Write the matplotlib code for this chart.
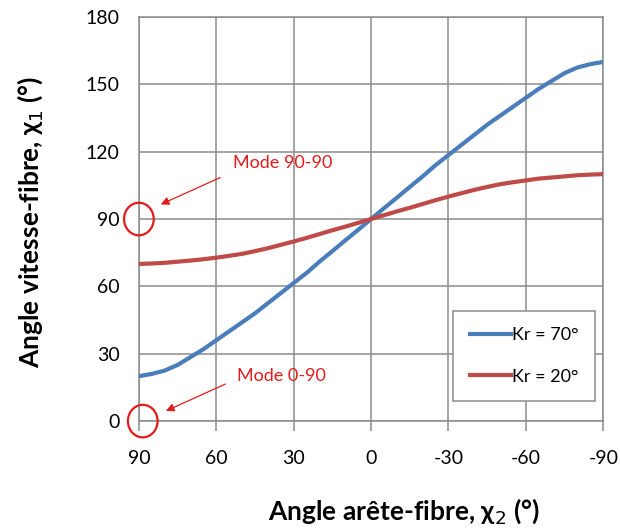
import matplotlib.pyplot as plt
from matplotlib.patches import Ellipse

# Data
chi2 = [90, 85, 80, 75, 70, 65, 60, 55, 50, 45, 40, 35, 30, 25, 20, 15, 10, 5, 0,
        -5, -10, -15, -20, -25, -30, -35, -40, -45, -50, -55, -60, -65, -70, -75, -80, -85, -90]
kr70 = [20, 21, 22.5, 25, 28.5, 32, 36, 40, 44, 48, 52.5, 57, 61.5, 66, 71, 75.7, 80.5, 85.2, 90,
        94.8, 99.5, 104.3, 109, 114, 118.5, 123, 127.5, 132, 136, 140, 144, 148, 151.5, 155, 157.5, 159, 160]
kr20 = [70, 70.2, 70.5, 71, 71.5, 72.1, 72.8, 73.6, 74.5, 75.7, 77, 78.5, 80, 81.6, 83.3, 85, 86.6, 88.3, 90,
        91.7, 93.4, 95, 96.7, 98.4, 100, 101.5, 103, 104.3, 105.5, 106.4, 107.2, 108, 108.5, 109, 109.5, 109.8, 110]
x_ticks = [90, 60, 30, 0, -30, -60, -90]
y_ticks = [0, 30, 60, 90, 120, 150, 180]

plt.rcParams['font.family'] = ['Lato', 'DejaVu Sans']
plt.rcParams['axes.unicode_minus'] = False

fig = plt.figure(figsize=(6.2, 5.31), dpi=100)
ax = fig.add_axes([0.224, 0.207, 0.749, 0.761])

ax.plot(chi2, kr70, color='#4a7ebb', lw=3, label='Kr = 70°', zorder=3)
ax.plot(chi2, kr20, color='#be4b48', lw=3, label='Kr = 20°', zorder=3)

ax.set_xlim(90, -90)
ax.set_ylim(0, 180)
ax.set_xticks(x_ticks)
ax.set_yticks(y_ticks)
ax.grid(True, color='#8c8c8c', lw=1.1)
for s in ax.spines.values():
    s.set_color('#8c8c8c')
    s.set_linewidth(1.1)
ax.tick_params(axis='x', length=7, color='#8c8c8c', width=1.1, labelsize=14, pad=14)
ax.tick_params(axis='y', length=0, labelsize=14, pad=14)

ax.set_xlabel('Angle arête-fibre, χ$_2$ (°)', fontsize=19, fontweight='bold')
ax.set_ylabel('Angle vitesse-fibre, χ$_1$ (°)', fontsize=19, fontweight='bold')
ax.xaxis.set_label_coords(0.571, -0.223)
ax.xaxis.label.set_va('center')
ax.yaxis.set_label_coords(-0.235, 0.493)
ax.yaxis.label.set_va('center')

# Red circles and arrows marking the modes
red = '#e31b1b'
for cx, cy in [(90, 90), (88.5, 0)]:
    ax.add_patch(Ellipse((cx, cy), 11.5, 14.5, fill=False, edgecolor=red, lw=1.6,
                         clip_on=False, zorder=4))
ax.annotate('', xy=(82.5, 96), xytext=(57.5, 109),
            arrowprops=dict(arrowstyle='-|>', color=red, lw=0.9, mutation_scale=12))
ax.annotate('', xy=(80.5, 4), xytext=(55.5, 17),
            arrowprops=dict(arrowstyle='-|>', color=red, lw=0.9, mutation_scale=12))
ax.text(53.7, 115, 'Mode 90-90', color=red, fontsize=13, va='center', ha='left')
ax.text(51.8, 20, 'Mode 0-90', color=red, fontsize=13, va='center', ha='left')

leg = ax.legend(loc='lower right', bbox_to_anchor=(0.982, 0.05), fontsize=13,
                handlelength=2.3, handletextpad=0.05, labelspacing=1.4,
                borderpad=0.9, borderaxespad=0, fancybox=False, framealpha=1,
                edgecolor='#8c8c8c')
leg.get_frame().set_linewidth(1.1)

fig.savefig('out.png', dpi=100)
